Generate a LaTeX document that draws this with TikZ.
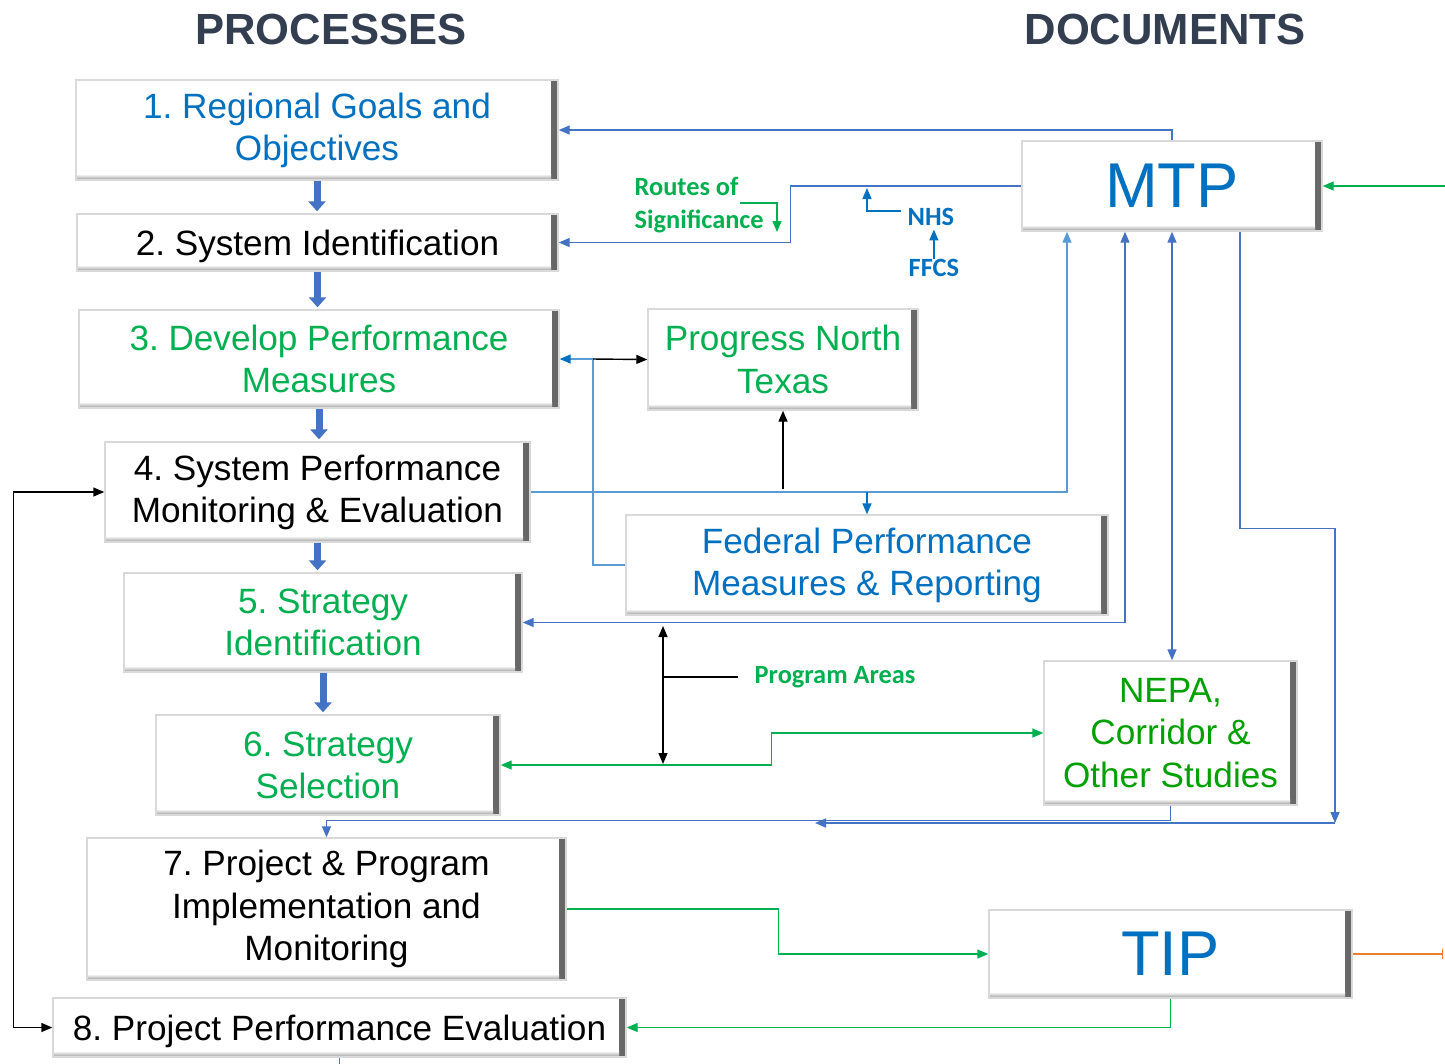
\documentclass[tikz,border=0pt]{standalone}
\usepackage{fontspec}
\setmainfont{Liberation Sans}
\newfontfamily\carl{Carlito}
\usetikzlibrary{arrows.meta, positioning}
\definecolor{lnblue}{HTML}{4472C4}
\definecolor{ltblue}{HTML}{5B9BD5}
\definecolor{txblue}{HTML}{0070C0}
\definecolor{txgreen}{HTML}{00B050}
\definecolor{dkgreen}{HTML}{00A000}
\definecolor{hdgray}{HTML}{333F50}
\definecolor{orng}{HTML}{ED7D31}
\frenchspacing

\begin{document}
\begin{tikzpicture}[x=0.1mm, y=-0.1mm, >={Triangle[length=1.1mm, width=0.9mm]},
        main/.style = {draw=gray!30, fill=white, inner sep=0pt, align=center,
                        font=\fontsize{10}{12}\selectfont,
                        execute at begin node={\rule{0pt}{9.5pt}},
                        path picture={
                            \shade[left color=white, right color=black!60]
                                ([xshift=-0.7mm]path picture bounding box.north east)
                                rectangle (path picture bounding box.south east);
                            \shade[top color=white, bottom color=black!40]
                                ([yshift=0.6mm]path picture bounding box.south west)
                                rectangle ([xshift=-0.7mm]path picture bounding box.south east);}},
        big/.style = {font=\fontsize{18}{20}\selectfont, text=txblue},
        head/.style = {font=\fontsize{12.4}{14}\selectfont\bfseries, text=hdgray},
        note/.style = {font=\carl\bfseries\fontsize{7.5}{9.4}\selectfont,
                        inner sep=0pt, align=left, anchor=west},
        link/.style = {draw=lnblue},
        bigarrow/.style = {draw=lnblue, line width=0.7mm, shorten >=0.2mm,
                        -{Triangle[length=1mm, width=1.7mm]}}]
        \useasboundingbox (0,0) rectangle (1445,1063);

        \node[head] (proc) at (331,29) {PROCESSES};
        \node[head] (docs) at (1165,29) {DOCUMENTS};

        % processes
        \node[main, minimum width=48.2mm, minimum height=10mm, text=txblue] (goals) at (317,130) {1. Regional Goals and\\Objectives};
        \node[main, minimum width=48.1mm, minimum height=5.7mm] (sysid) at (317.5,242.5) {2. System Identification};
        \node[main, minimum width=48mm, minimum height=9.8mm, text=txgreen] (perf) at (319,359) {3. Develop Performance\\Measures};
        \node[main, minimum width=42.5mm, minimum height=10mm] (spme) at (317.5,492) {4. System Performance\\Monitoring \& Evaluation};
        \node[main, minimum width=39.8mm, minimum height=9.9mm, text=txgreen] (strat) at (323,622.5) {5. Strategy\\Identification};
        \node[main, minimum width=34.4mm, minimum height=10mm, text=txgreen] (sel) at (328,765) {6. Strategy\\Selection};
        \node[main, minimum width=47.9mm, minimum height=14.2mm] (impl) at (326.5,909) {7. Project \& Program\\Implementation and\\Monitoring};
        \node[main, minimum width=57.3mm, minimum height=5.9mm] (ppe) at (339.5,1027.5) {8. Project Performance Evaluation};

        % documents
        \node[main, big, minimum width=30mm, minimum height=9mm] (mtp) at (1172,186) {MTP};
        \node[main, minimum width=27mm, minimum height=10.1mm, text=txgreen] (pnt) at (783,359.5) {Progress North\\Texas};
        \node[main, minimum width=48.2mm, minimum height=10mm, text=txblue] (fpm) at (867,565) {Federal Performance\\Measures \& Reporting};
        \node[main, minimum width=25.3mm, minimum height=14.4mm, text=dkgreen] (nepa) at (1170.5,733) {NEPA,\\Corridor \&\\Other Studies};
        \node[main, big, minimum width=36.3mm, minimum height=8.8mm] (tip) at (1170.5,954) {TIP};

        % small labels
        \node[note, text=txgreen] (routes) at (634,205) {Routes of\\Significance};
        \node[note, text=txblue] (nhs) at (907,217) {NHS};
        \node[note, text=txblue] (ffcs) at (908,268) {FFCS};
        \node[note, text=txgreen] (areas) at (754,677) {Program Areas};

        \coordinate (rs) at (740,203);
        \coordinate (jn) at (593,359);
        \coordinate (rin) at (1445,186);
        \coordinate (c1) at (1335,823);
        \coordinate (pa1) at (663,626);
        \coordinate (pa2) at (663,764);
        \coordinate (tout) at (1443,954);

        \foreach \a/\b in {goals/sysid, sysid/perf, perf/spme, spme/strat, strat/sel}
            \draw[bigarrow] (\a.south) -- (\a.south |- \b.north);

        \draw[link, ->] (mtp.north) |- (goals.east);
        \draw[link, ->] (mtp.west) -- ++(-231,0) |- (sysid.east);
        \draw[txgreen, ->] (rs) -| ++(37,29);
        \draw[txblue, ->] ([shift={(-6,-6)}]nhs.west) -| ++(-34,-23);
        \draw[txblue, ->] (ffcs.north) -- ([yshift=-0.3mm]ffcs.north |- nhs.south);
        \draw[txgreen, ->] (rin) -- (mtp.east);

        \draw[ltblue, ->] (spme.east) -| ([xshift=-10.5mm]mtp.south);
        \draw[txblue, ->] (fpm.north |- spme.east) -- (fpm.north);
        \draw[->] ([yshift=0.3mm]pnt.south |- spme.east) -- (pnt.south);
        \draw[ltblue, -{Triangle[length=1.1mm, width=0.9mm, color=txblue]}] (fpm.west) -| (jn) -- (perf.east);
        \draw[->] (jn) -- (pnt.west);

        \draw[link, <->] ([xshift=-4.7mm]mtp.south) |- (strat.east);
        \draw[link, <->] (mtp.south) -- (mtp.south |- nepa.north);
        \draw[link, ->] ([xshift=6.8mm]mtp.south) -- ++(0,297) -| (c1);
        \draw[link, ->] (c1) -- ++(-520,0);
        \draw[link, ->] (nepa.south) -- ++(0,15) -| (impl.north);

        \draw[<->] (pa1) -- (pa2);
        \draw (pa1 |- areas.west) -- ([xshift=-1.6mm]areas.west);
        \draw[txgreen, <->] (sel.east) -- ++(271,0) |- (nepa.west);

        \draw[txgreen, ->] (impl.east) -- ++(212,0) |- (tip.west);
        \draw[txgreen, ->] (tip.south) |- (ppe.east);
        \draw[orng, -{Bar[width=1mm]}] (tip.east) -- (tout);
        \draw[txgreen] (ppe.south) -- ++(0,8);
        \draw[<->] (ppe.west) -- ++(-39,0) |- (spme.west);
    \end{tikzpicture}
\end{document}
